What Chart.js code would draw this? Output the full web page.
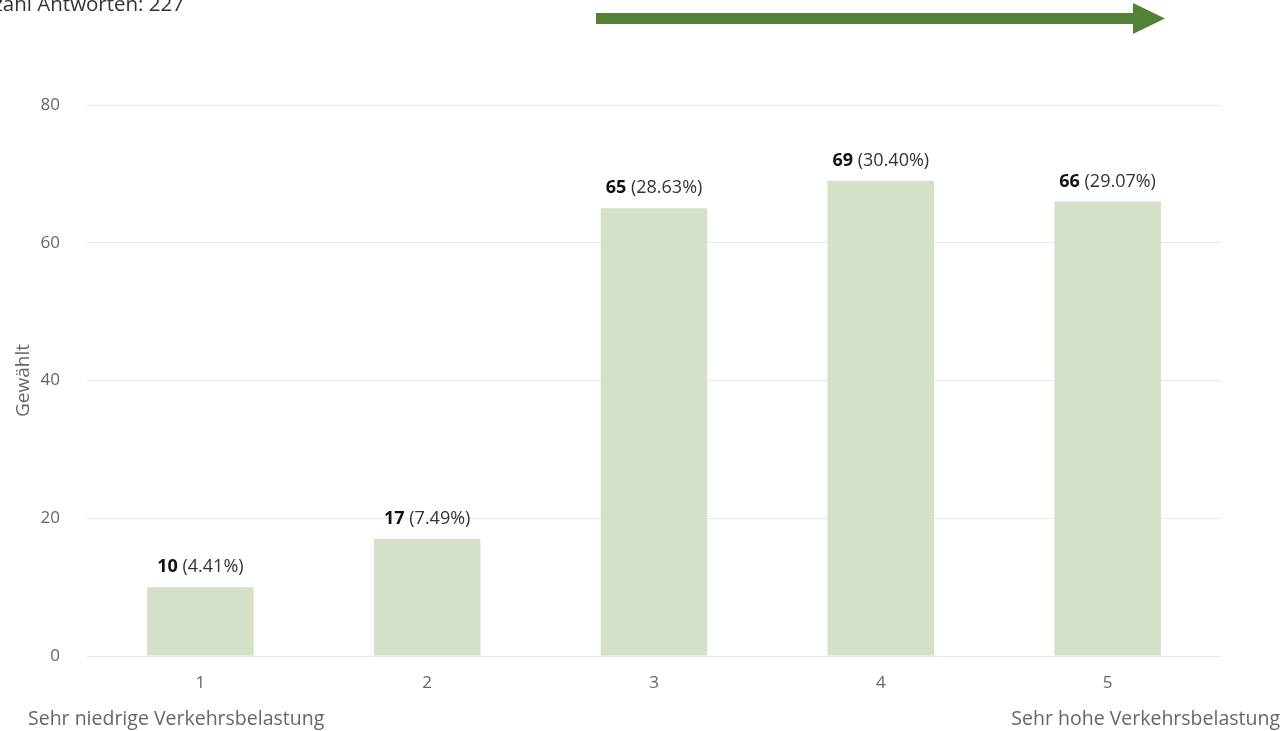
<!DOCTYPE html>
<html>
<head>
<meta charset="utf-8">
<script src="https://cdn.jsdelivr.net/npm/chart.js@4.4.1/dist/chart.umd.min.js"></script>
<style>
  html, body { margin: 0; padding: 0; background: #fff; overflow: hidden; }
  body { width: 1286px; height: 731px; position: relative; font-family: "Open Sans", sans-serif; }
  #wrap { position: absolute; left: 0; top: 0; width: 1286px; height: 731px; }
  .note { position: absolute; font-size: 19.5px; line-height: 26px; color: #666; white-space: nowrap; }
  #head { position: absolute; right: 1102px; top: -11px; font-size: 20.5px; line-height: 28px; color: #333; white-space: nowrap; }
  svg { position: absolute; left: 0; top: 0; }
</style>
</head>
<body>
<div id="wrap"><canvas id="c" width="1286" height="731"></canvas></div>
<div id="head">Anzahl Antworten: 227</div>
<svg width="1286" height="40">
  <rect x="596" y="13" width="540" height="11" fill="#538135"></rect>
  <polygon points="1133,3 1165,18.5 1133,34" fill="#538135"></polygon>
</svg>
<div class="note" id="lowNote" style="left:28px; top:705px;">Sehr niedrige Verkehrsbelastung</div>
<div class="note" id="highNote" style="right:6px; top:705px;">Sehr hohe Verkehrsbelastung</div>
<script>
const categories = ["1", "2", "3", "4", "5"];
const counts = [10, 17, 65, 69, 66];
const percentLabels = ["4.41%", "7.49%", "28.63%", "30.40%", "29.07%"];
const yTicks = [0, 20, 40, 60, 80];
const axisTitle = "Gewählt";

const labelPlugin = {
  id: 'barLabels',
  afterDatasetsDraw(chart) {
    const ctx = chart.ctx;
    const meta = chart.getDatasetMeta(0);
    ctx.save();
    ctx.textBaseline = 'middle';
    meta.data.forEach((bar, i) => {
      const a = String(counts[i]);
      const b = ' (' + percentLabels[i] + ')';
      ctx.font = 'bold 18px "Open Sans"';
      const wa = ctx.measureText(a).width;
      ctx.font = '18px "Open Sans"';
      const wb = ctx.measureText(b).width;
      const x0 = bar.x - (wa + wb) / 2;
      const y = bar.y - 20;
      ctx.textAlign = 'left';
      ctx.fillStyle = '#111';
      ctx.font = 'bold 18px "Open Sans"';
      ctx.fillText(a, x0, y);
      ctx.fillStyle = '#333';
      ctx.font = '18px "Open Sans"';
      ctx.fillText(b, x0 + wa, y);
    });
    ctx.restore();
  }
};

new Chart(document.getElementById('c'), {
  type: 'bar',
  data: {
    labels: categories,
    datasets: [{
      data: counts,
      backgroundColor: '#d4e0c8',
      borderWidth: 0,
      barPercentage: 0.47,
      categoryPercentage: 1.0
    }]
  },
  options: {
    responsive: false,
    animation: false,
    layout: { padding: { left: 0, right: 65, top: 105, bottom: 25 } },
    plugins: { legend: { display: false }, tooltip: { enabled: false } },
    scales: {
      x: {
        grid: { display: false, drawTicks: false },
        border: { display: false },
        ticks: { color: '#666', font: { family: 'Open Sans', size: 17 }, padding: 17 },
        afterFit(s) { s.height = 50; }
      },
      y: {
        min: 0, max: 80,
        afterBuildTicks(s) { s.ticks = yTicks.map(v => ({ value: v })); },
        grid: { color: '#e8e8e8', drawTicks: false, lineWidth: 1 },
        border: { display: false },
        ticks: { color: '#666', font: { family: 'Open Sans', size: 17 }, padding: 27 },
        title: { display: true, text: axisTitle, color: '#666', font: { family: 'Open Sans', size: 19 }, padding: { top: 12, bottom: 0 } },
        afterFit(s) { s.width = 87; }
      }
    }
  },
  plugins: [labelPlugin]
});
</script>
</body>
</html>
